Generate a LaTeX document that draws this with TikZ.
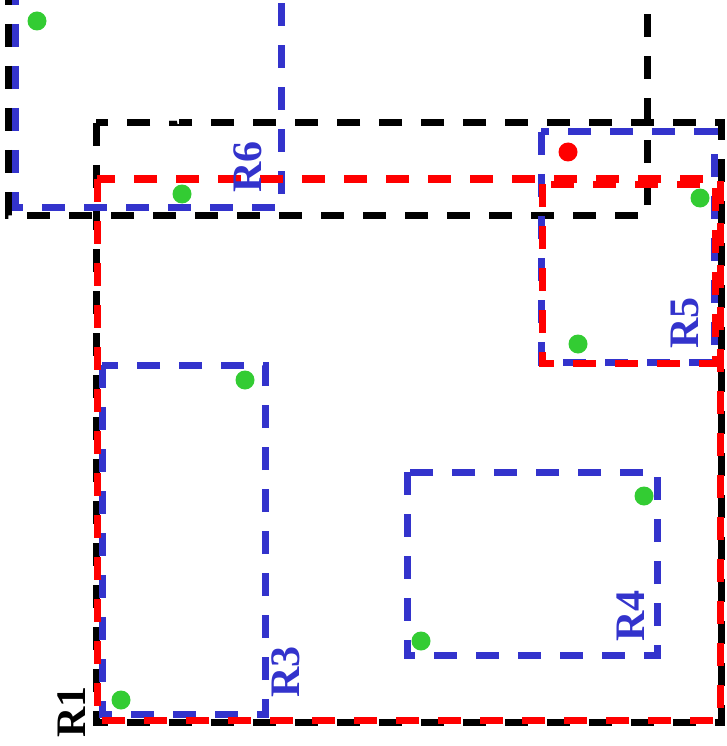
\documentclass[tikz,border=0pt]{standalone}
\usepackage{fontspec}
\setmainfont{Liberation Serif}
\usetikzlibrary{positioning}
\definecolor{rblue}{RGB}{51,51,204}
\definecolor{rgreen}{RGB}{51,204,51}

\begin{document}
\begin{tikzpicture}[x=1pt,y=-1pt,
        box/.style={line width=7pt, dash pattern=on 23pt off 19pt},
        punto/.style={circle, fill=rgreen, inner sep=0pt, minimum size=19pt},
        etichetta/.style={rotate=90, inner sep=0pt, font=\fontsize{42}{42}\selectfont\bfseries}]
        \useasboundingbox (0,0) rectangle (726,746);
        \clip (0,0) rectangle (726,746);
        %rettangoli neri
            \draw[box, black] (8,-60) rectangle (647,215);
            \draw[box, black] (96,123) rectangle (721,722);
        %rettangoli blu
            \draw[box, rblue] (15,-60) rectangle (281,207);
            \draw[box, rblue] (541,132) rectangle (714,362);
            \draw[box, rblue] (102,365) rectangle (265,714);
            \draw[box, rblue] (407,472) rectangle (657,655);
        %rettangoli rossi
            \draw[box, red] (97,179) rectangle (720,720);
            \draw[box, red] (542,184) rectangle (715,363);
        %punti
            \node[punto] (p1) at (37,21) {};
            \node[punto] (p2) at (182,194) {};
            \node[punto] (p3) at (700,198) {};
            \node[punto] (p4) at (578,344) {};
            \node[punto] (p5) at (245,380) {};
            \node[punto] (p6) at (644,496) {};
            \node[punto] (p7) at (421,641) {};
            \node[punto] (p8) at (121,700) {};
            \node[punto, fill=red] (q) at (568,152) {};
        %label
            \node[etichetta] (r1) at (72,712) {R1};
            \node[etichetta, white] (r2) at (166,100) {R2};
            \node[etichetta, rblue] (r3) at (286,672) {R3};
            \node[etichetta, rblue] (r4) at (631,616) {R4};
            \node[etichetta, rblue] (r5) at (685,323) {R5};
            \node[etichetta, rblue] (r6) at (248,167) {R6};
\end{tikzpicture}
\end{document}
